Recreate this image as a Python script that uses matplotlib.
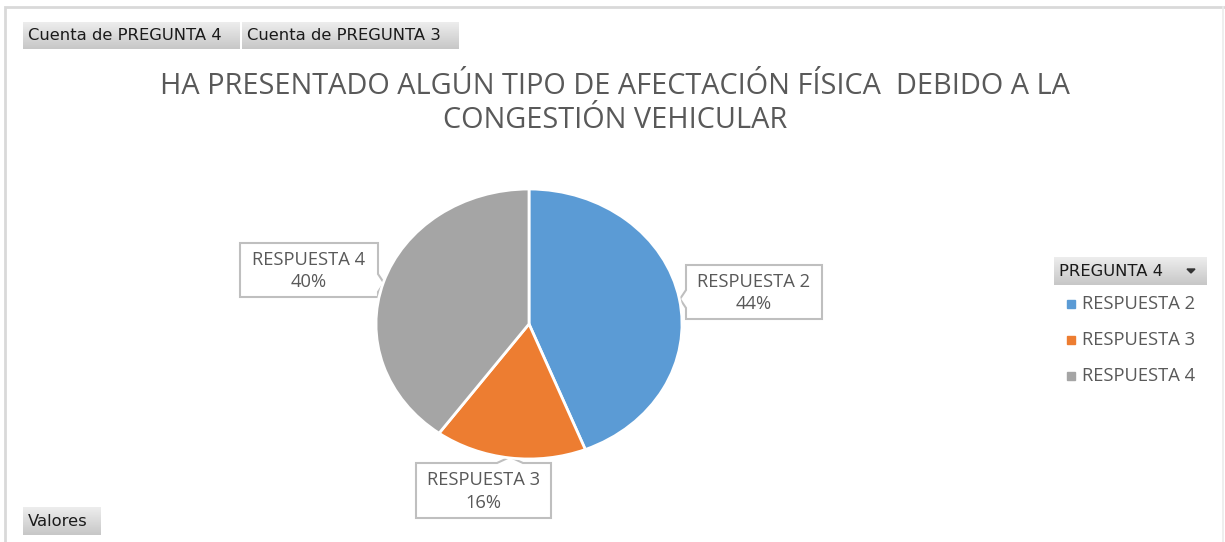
import matplotlib
matplotlib.use("Agg")
import matplotlib.pyplot as plt
import numpy as np
from matplotlib.patches import Rectangle, Polygon

# ---- data ----
categories = ["RESPUESTA 2", "RESPUESTA 3", "RESPUESTA 4"]
shares = [44, 16, 40]
colors = ["#5B9BD5", "#ED7D31", "#A5A5A5"]
title_lines = ["HA PRESENTADO ALGÚN TIPO DE AFECTACIÓN FÍSICA  DEBIDO A LA",
               "CONGESTIÓN VEHICULAR"]
field_buttons = ["Cuenta de PREGUNTA 4", "Cuenta de PREGUNTA 3"]
legend_field = "PREGUNTA 4"
values_button = "Valores"

W, H = 1225, 542
fig = plt.figure(figsize=(W / 100, H / 100), dpi=100)
fig.patch.set_facecolor("white")

# overlay axes in pixel coords
ov = fig.add_axes([0, 0, 1, 1])
ov.set_xlim(0, W)
ov.set_ylim(H, 0)
ov.axis("off")

TXT = "#595959"
FONT = "Open Sans"
BTNFONT = "DejaVu Sans"

# chart border
ov.plot([5, 5, 1224], [560, 7, 7], color="#D9D9D9", lw=2, solid_joinstyle="miter")
ov.plot([1223, 1223], [7, 560], color="#EBEBEB", lw=1.2)


def gradient_button(x0, y0, w, h, label, fs=11.8, arrow=False):
    grad = np.linspace(0, 1, 50).reshape(-1, 1)
    top = np.array([0.93, 0.93, 0.93])
    bot = np.array([0.78, 0.78, 0.78])
    img = top + (bot - top) * grad[..., None]
    img = np.repeat(img, 2, axis=1)
    ov.imshow(img, extent=(x0, x0 + w, y0 + h, y0), aspect="auto", zorder=2)
    ov.text(x0 + 5, y0 + h / 2 + 0.5, label, fontsize=fs, family=BTNFONT,
            color="#1A1A1A", va="center", ha="left", zorder=3)
    if arrow:
        ax_ = x0 + w - 16
        ay_ = y0 + h / 2
        ov.add_patch(Polygon([[ax_ - 4, ay_ - 2], [ax_ + 4, ay_ - 2], [ax_, ay_ + 2]],
                             closed=True, color="#333333", zorder=3))


gradient_button(23, 22, 217, 27, field_buttons[0])
gradient_button(242, 22, 217, 27, field_buttons[1])
gradient_button(23, 507, 78, 28, values_button)
gradient_button(1054, 257, 153, 28, legend_field, arrow=True)

# title
ov.text(615, 86, title_lines[0], fontsize=20.8, family=FONT, color=TXT,
        ha="center", va="center")
ov.text(615, 121, title_lines[1], fontsize=20.8, family=FONT, color=TXT,
        ha="center", va="center")

# pie
cx, cy, rx, ry = 529, 324, 153, 135
pax = fig.add_axes([(cx - rx) / W, (H - (cy + ry)) / H, 2 * rx / W, 2 * ry / H])
pax.pie(shares, colors=colors, startangle=90, counterclock=False,
        wedgeprops=dict(edgecolor="white", linewidth=2))
pax.set_xlim(-1, 1)
pax.set_ylim(-1, 1)
pax.set_aspect("auto")
pax.axis("off")


def callout(x0, y0, x1, y1, side, pos, label):
    n = 9   # notch half width
    d = 6   # notch depth
    if side == "left":
        pts = [[x0, y0], [x1, y0], [x1, y1], [x0, y1], [x0, pos + n], [x0 - d, pos], [x0, pos - n]]
    elif side == "right":
        pts = [[x0, y0], [x1, y0], [x1, pos - n], [x1 + d, pos], [x1, pos + n], [x1, y1], [x0, y1]]
    else:  # top
        pts = [[x0, y0], [pos - 13, y0], [pos, y0 - 6], [pos + 13, y0], [x1, y0], [x1, y1], [x0, y1]]
    ov.add_patch(Polygon(pts, closed=True, facecolor="white", edgecolor="#BFBFBF", lw=1.5, zorder=5))
    ov.text((x0 + x1) / 2, (y0 + y1) / 2 + 1, label, fontsize=13.2, family=FONT, color=TXT,
            ha="center", va="center", linespacing=1.3, zorder=6)


lbl = {c: f"{c}\n{s}%" for c, s in zip(categories, shares)}
callout(686, 265, 822, 319, "left", 299, lbl["RESPUESTA 2"])
callout(416, 463, 551, 518, "top", 510, lbl["RESPUESTA 3"])
callout(240, 243, 378, 297, "right", 283, lbl["RESPUESTA 4"])

# legend
for i, (c, col) in enumerate(zip(categories, colors)):
    y = 304 + 36 * i
    ov.add_patch(Rectangle((1067, y - 4), 8, 8, color=col, zorder=3))
    ov.text(1082, y, c, fontsize=13.2, family=FONT, color=TXT, va="center", ha="left")

fig.savefig("out.png", dpi=100)
